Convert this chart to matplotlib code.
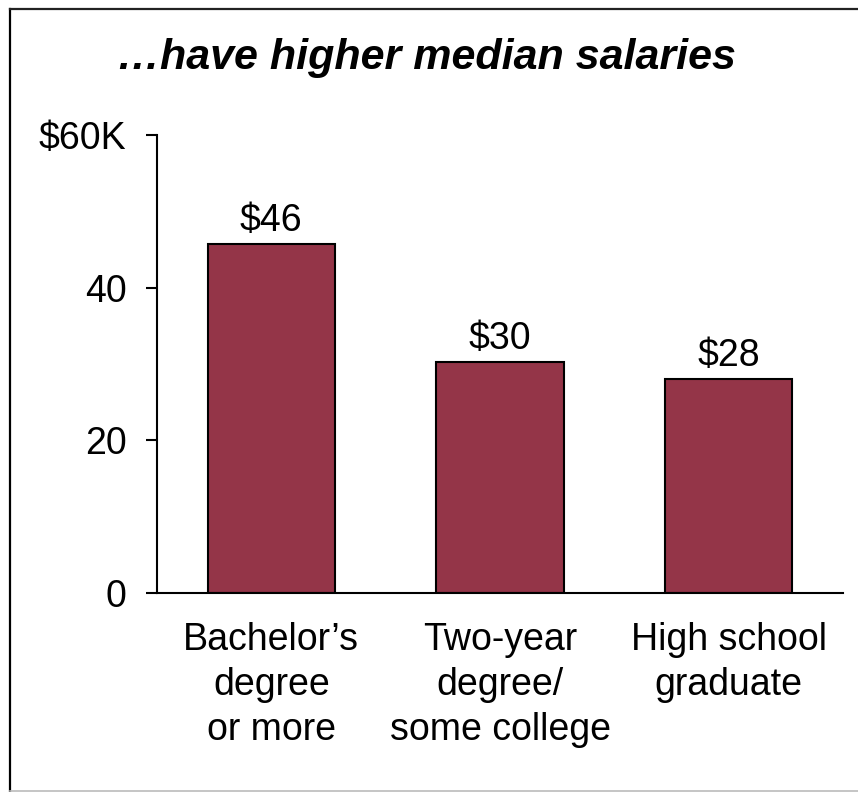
import matplotlib.pyplot as plt
from matplotlib.lines import Line2D

plt.rcParams["font.family"] = ["Liberation Sans", "DejaVu Sans"]

CATEGORIES = ["Bachelor\u2019s\ndegree\nor more", "Two-year\ndegree/\nsome college", "High school\ngraduate"]
MEDIAN_SALARY_K = [45.7, 30.2, 28.0]  # thousands of dollars
Y_TICKS = [0, 20, 40, 60]
Y_TICK_LABELS = ["0", "20", "40", "$60K"]
TITLE = "\u2026have higher median salaries"

BAR_COLOR = "#943548"
FS = 27

fig = plt.figure(figsize=(8.58, 7.92), dpi=100)
ax = fig.add_axes([157 / 858, 199 / 792, 686 / 858, 458 / 792])

x = range(len(CATEGORIES))
bars = ax.bar(x, MEDIAN_SALARY_K, width=0.556, color=BAR_COLOR,
              edgecolor="black", linewidth=1.5, zorder=2)

for rect, v in zip(bars, MEDIAN_SALARY_K):
    ax.annotate(f"${v:.0f}", (rect.get_x() + rect.get_width() / 2, v),
                xytext=(0, 4), textcoords="offset points",
                ha="center", va="bottom", fontsize=FS)

ax.set_xlim(-0.5, 2.5)
ax.set_ylim(0, 60)
ax.set_yticks(Y_TICKS)
ax.set_yticklabels(Y_TICK_LABELS)
ax.set_xticks(list(x))
ax.set_xticklabels(CATEGORIES, linespacing=1.31)

ax.tick_params(axis="y", direction="out", length=8, width=1.5, pad=14, labelsize=FS)
ax.tick_params(axis="x", length=0, pad=21, labelsize=FS)

for side in ("top", "right"):
    ax.spines[side].set_visible(False)
for side in ("left", "bottom"):
    ax.spines[side].set_linewidth(1.5)

fig.text(426 / 858, 1 - 58 / 792, TITLE, ha="center", va="center",
         fontsize=31, fontweight="bold", fontstyle="italic")

# outer box (left/top edges, faint bottom edge)
fig.add_artist(Line2D([10 / 858, 10 / 858], [1 / 792, 1 - 9 / 792],
                      transform=fig.transFigure, color="black", linewidth=1.6))
fig.add_artist(Line2D([10 / 858, 1.0], [1 - 9 / 792, 1 - 9 / 792],
                      transform=fig.transFigure, color="#222222", linewidth=1.6))
fig.add_artist(Line2D([10 / 858, 1.0], [1.5 / 792, 1.5 / 792],
                      transform=fig.transFigure, color="#bbbbbb", linewidth=1.2))

fig.savefig("out.png", dpi=100)
